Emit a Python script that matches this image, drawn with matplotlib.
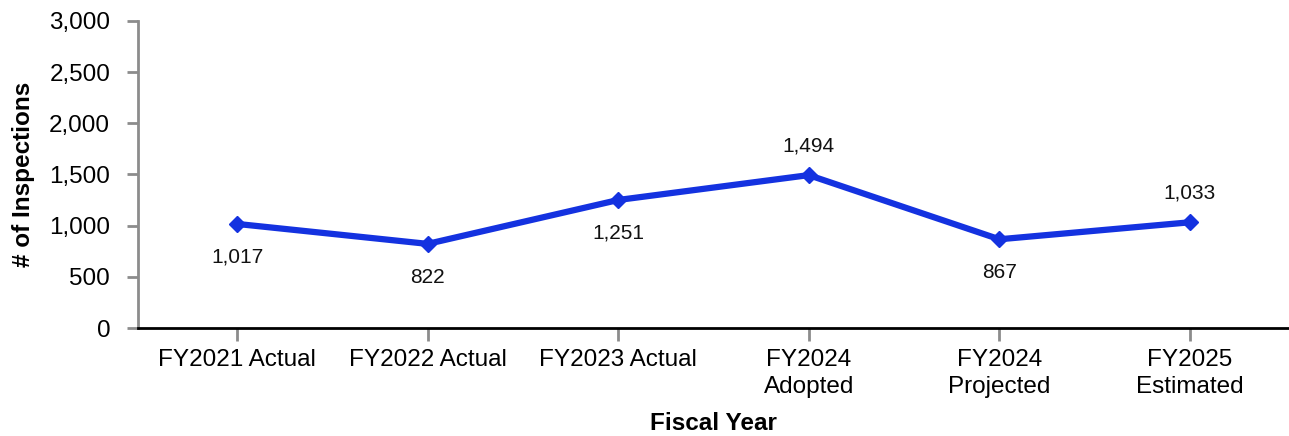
import matplotlib.pyplot as plt
from matplotlib.ticker import FuncFormatter

plt.rcParams['font.family'] = ['Liberation Sans', 'DejaVu Sans']

categories = ['FY2021 Actual', 'FY2022 Actual', 'FY2023 Actual',
              'FY2024\nAdopted', 'FY2024\nProjected', 'FY2025\nEstimated']
inspections = [1017, 822, 1251, 1494, 867, 1033]
label_pos = ['below', 'below', 'below', 'above', 'below', 'above']

line_color = '#1432e0'

fig = plt.figure(figsize=(12.89, 4.36), dpi=100)
ax = fig.add_axes([138 / 1289, 1 - 328 / 436, 1151 / 1289, 307 / 436])

x = list(range(len(categories)))
ax.plot(x, inspections, color=line_color, linewidth=4.5, marker='D',
        markersize=8, zorder=3)

for xi, v, pos in zip(x, inspections, label_pos):
    dy = -24 if pos == 'below' else 21
    ax.annotate(f'{v:,}', (xi, v), xytext=(0, dy), textcoords='offset points',
                ha='center', va='center', fontsize=15, color='#111111')

ax.set_xlim(-0.52, len(categories) - 0.48)
ax.set_ylim(0, 3000)
ax.set_yticks(range(0, 3001, 500))
ax.yaxis.set_major_formatter(FuncFormatter(lambda v, p: f'{int(v):,}'))
ax.set_xticks(x)
ax.set_xticklabels(categories, linespacing=1.3)

for side in ['top', 'right']:
    ax.spines[side].set_visible(False)
ax.spines['left'].set_color('#8c8c8c')
ax.spines['left'].set_linewidth(2)
ax.spines['bottom'].set_color('black')
ax.spines['bottom'].set_linewidth(2)
ax.tick_params(axis='y', length=8, width=2, color='#8c8c8c', labelsize=17.5, pad=12)
ax.tick_params(axis='x', length=9, width=2, color='#8c8c8c', labelsize=17.5, pad=6)

ax.set_xlabel('Fiscal Year', fontsize=17.5, fontweight='bold', labelpad=10)
ax.set_ylabel('# of Inspections', fontsize=17.5, fontweight='bold', labelpad=10)

fig.savefig('out.png', dpi=100)
